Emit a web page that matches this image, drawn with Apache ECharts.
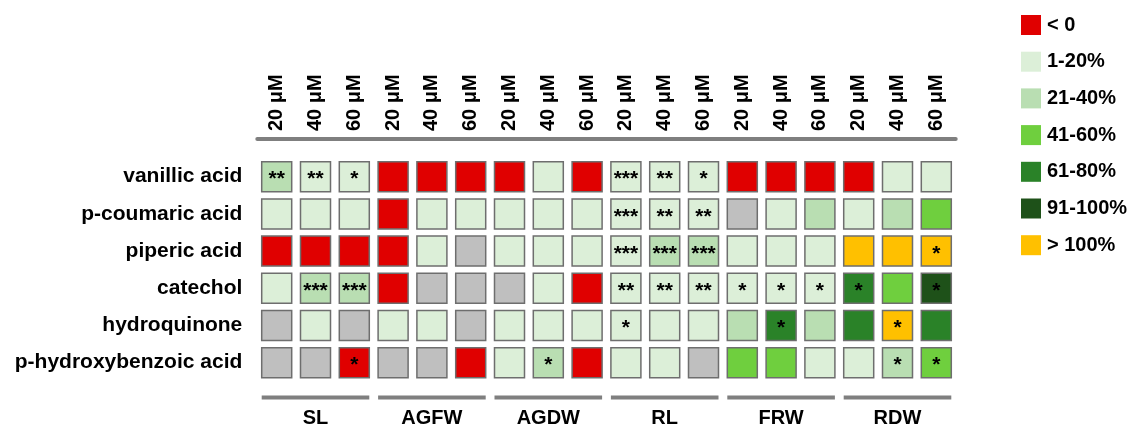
<!DOCTYPE html>
<html>
<head>
<meta charset="utf-8">
<script src="https://cdn.jsdelivr.net/npm/echarts@6/dist/echarts.min.js"></script>
<style>
  html, body { margin: 0; padding: 0; background: #fff; }
  #chart { width: 1133px; height: 429px; }
</style>
</head>
<body>
<div id="chart"></div>
<script>
// Treatment groups and doses (columns)
const groups = ['SL', 'AGFW', 'AGDW', 'RL', 'FRW', 'RDW'];
const doses = ['20 μM', '40 μM', '60 μM'];

// Compounds (rows)
const compounds = ['vanillic acid', 'p-coumaric acid', 'piperic acid', 'catechol', 'hydroquinone', 'p-hydroxybenzoic acid'];

// Effect classes; -1 = not determined (grey)
const classLabels = ['< 0', '1-20%', '21-40%', '41-60%', '61-80%', '91-100%', '> 100%'];
const classColors = ['#e00000', '#dcefd8', '#b9deb2', '#6fcf3e', '#2a8228', '#1e5119', '#ffc000'];

// Class index per compound, 18 columns (SL, AGFW, AGDW, RL, FRW, RDW x 20/40/60 μM)
const vanillicAcid      = [2, 1, 1,   0, 0, 0,    0, 1, 0,   1, 1, 1,   0, 0, 0,   0, 1, 1];
const pCoumaricAcid     = [1, 1, 1,   0, 1, 1,    1, 1, 1,   1, 1, 1,  -1, 1, 2,   1, 2, 3];
const pipericAcid       = [0, 0, 0,   0, 1, -1,   1, 1, 1,   1, 2, 2,   1, 1, 1,   6, 6, 6];
const catechol          = [1, 2, 2,   0, -1, -1, -1, 1, 0,   1, 1, 1,   1, 1, 1,   4, 3, 5];
const hydroquinone      = [-1, 1, -1, 1, 1, -1,   1, 1, 1,   1, 1, 1,   2, 4, 2,   4, 6, 4];
const pHydroxybenzoic   = [-1, -1, 0, -1, -1, 0,  1, 2, 0,   1, 1, -1,  3, 3, 1,   1, 2, 3];

// Significance marks per compound
const vanillicStars     = ['**', '**', '*',  '', '', '',  '', '', '',  '***', '**', '*',    '', '', '',     '', '', ''];
const pCoumaricStars    = ['', '', '',       '', '', '',  '', '', '',  '***', '**', '**',   '', '', '',     '', '', ''];
const pipericStars      = ['', '', '',       '', '', '',  '', '', '',  '***', '***', '***', '', '', '',     '', '', '*'];
const catecholStars     = ['', '***', '***', '', '', '',  '', '', '',  '**', '**', '**',    '*', '*', '*',  '*', '', '*'];
const hydroquinoneStars = ['', '', '',       '', '', '',  '', '', '',  '*', '', '',         '', '*', '',    '', '*', ''];
const pHydroxyStars     = ['', '', '*',      '', '', '',  '', '*', '',  '', '', '',         '', '', '',     '', '*', '*'];

const classRows = [vanillicAcid, pCoumaricAcid, pipericAcid, catechol, hydroquinone, pHydroxybenzoic];
const starRows = [vanillicStars, pCoumaricStars, pipericStars, catecholStars, hydroquinoneStars, pHydroxyStars];

const FONT = 'Arial, "Liberation Sans", sans-serif';

// Column keys are unique; the axis shows only the dose
const columns = [];
groups.forEach(g => doses.forEach(d => columns.push(g + '|' + d)));

const cells = [];
classRows.forEach((row, r) => {
  row.forEach((cls, c) => {
    cells.push({ value: [c, r, cls], stars: starRows[r][c] });
  });
});

const groupSpans = groups.map((g, i) => [i * doses.length, i * doses.length + doses.length - 1, i]);

const CELL = 30;

const chart = echarts.init(document.getElementById('chart'), null, { renderer: 'canvas' });
chart.setOption({
  backgroundColor: '#ffffff',
  animation: false,
  grid: { left: 257.3, right: 177.3, top: 158.1, bottom: 47.7 },
  xAxis: {
    type: 'category',
    data: columns,
    position: 'top',
    offset: 19,
    axisLine: { show: true, lineStyle: { color: '#7f7f7f', width: 4 } },
    axisTick: { show: false },
    splitLine: { show: false },
    axisLabel: {
      rotate: -90,
      margin: 8,
      interval: 0,
      color: '#000',
      fontSize: 20,
      fontWeight: 'bold',
      fontFamily: FONT,
      formatter: v => v.split('|')[1]
    }
  },
  yAxis: {
    type: 'category',
    data: compounds,
    inverse: true,
    axisLine: { show: false },
    axisTick: { show: false },
    splitLine: { show: false },
    axisLabel: {
      margin: 15,
      color: '#000',
      fontSize: 21,
      fontWeight: 'bold',
      fontFamily: FONT
    }
  },
  visualMap: {
    type: 'piecewise',
    seriesIndex: 0,
    dimension: 2,
    orient: 'vertical',
    inverse: true,
    align: 'left',
    left: 1006,
    top: 0,
    itemWidth: 20,
    itemHeight: 20,
    itemGap: 16.7,
    textGap: 6,
    itemSymbol: 'rect',
    selectedMode: false,
    hoverLink: false,
    textStyle: { color: '#000', fontSize: 20, fontWeight: 'bold', fontFamily: FONT },
    pieces: classLabels.map((label, i) => ({ value: i, label: label, color: classColors[i] })),
    outOfRange: { color: '#bfbfbf' }
  },
  series: [
    {
      type: 'scatter',
      symbol: 'rect',
      symbolSize: CELL,
      data: cells,
      itemStyle: { opacity: 1, borderColor: '#6e6e6e', borderWidth: 1.5 },
      label: {
        show: true,
        position: 'inside',
        formatter: p => p.data.stars,
        color: '#000',
        fontSize: 21,
        fontWeight: 'bold',
        fontFamily: FONT,
        offset: [0, 3]
      },
      emphasis: { disabled: true },
      z: 2
    },
    {
      // group bars and names under the matrix
      type: 'custom',
      data: groupSpans,
      clip: false,
      silent: true,
      renderItem: (params, api) => {
        const start = api.coord([api.value(0), compounds.length - 1]);
        const end = api.coord([api.value(1), compounds.length - 1]);
        const mid = api.coord([(api.value(0) + api.value(1)) / 2, compounds.length - 1]);
        const band = api.size([1, 1]);
        const y = start[1] + band[1] * 0.935;
        return {
          type: 'group',
          children: [
            {
              type: 'line',
              shape: { x1: start[0] - CELL / 2, y1: y, x2: end[0] + CELL / 2, y2: y },
              style: { stroke: '#7f7f7f', lineWidth: 4 }
            },
            {
              type: 'text',
              style: {
                text: groups[api.value(2)],
                x: mid[0],
                y: y + 21,
                align: 'center',
                verticalAlign: 'middle',
                fill: '#000',
                fontSize: 20,
                fontWeight: 'bold',
                fontFamily: FONT
              }
            }
          ]
        };
      },
      z: 1
    }
  ]
});
</script>
</body>
</html>
